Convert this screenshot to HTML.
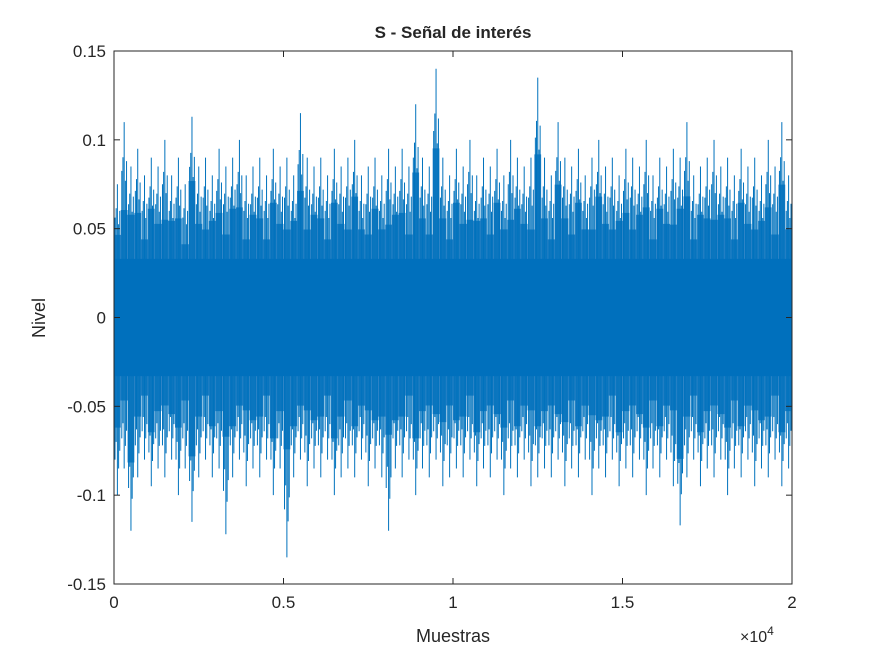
<!DOCTYPE html>
<html><head><meta charset="utf-8"><style>
body{margin:0;background:#fff;}
svg text{font-family:"Liberation Sans",sans-serif;fill:#262626;}
</style></head><body>
<svg width="875" height="656" viewBox="0 0 875 656">
<rect width="875" height="656" fill="#fff"/>
<g id="plot"></g>
<rect x="114" y="51" width="678" height="533" fill="none" stroke="#262626" stroke-width="1"/>
<g id="ticks"></g>
<text x="453" y="38" text-anchor="middle" font-size="17" font-weight="bold" fill="#000">S - Señal de interés</text>
<text x="453" y="642" text-anchor="middle" font-size="18">Muestras</text>
<text transform="translate(45,318) rotate(-90)" text-anchor="middle" font-size="18">Nivel</text>
<text x="740" y="642" font-size="16">×10<tspan dy="-7" font-size="12">4</tspan></text>
</svg>
<script>
const xTicks=[0,5000,10000,15000,20000];
const xTickLabels=["0","0.5","1","1.5","2"];
const yTicks=[-0.15,-0.1,-0.05,0,0.05,0.1,0.15];
const yTickLabels=["-0.15","-0.1","-0.05","0","0.05","0.1","0.15"];
// per-bin (200 samples) envelope
const binMax=[0.075,0.11,0.085,0.095,0.08,0.09,0.085,0.1,0.08,0.09,0.075,0.113,0.085,0.09,0.08,0.095,0.085,0.09,0.1,0.08,0.085,0.09,0.08,0.095,0.085,0.09,0.08,0.115,0.09,0.085,0.09,0.08,0.095,0.085,0.09,0.1,0.08,0.085,0.09,0.08,0.095,0.085,0.095,0.085,0.12,0.09,0.085,0.14,0.09,0.08,0.095,0.085,0.1,0.08,0.09,0.085,0.095,0.08,0.1,0.09,0.085,0.09,0.135,0.09,0.08,0.11,0.09,0.085,0.095,0.08,0.09,0.1,0.085,0.09,0.08,0.095,0.09,0.085,0.1,0.08,0.09,0.085,0.095,0.09,0.11,0.08,0.085,0.09,0.1,0.085,0.09,0.08,0.095,0.085,0.09,0.08,0.1,0.085,0.11,0.08];
const binMin=[-0.1,-0.085,-0.12,-0.09,-0.08,-0.095,-0.085,-0.09,-0.08,-0.1,-0.085,-0.115,-0.09,-0.08,-0.09,-0.085,-0.122,-0.09,-0.08,-0.095,-0.085,-0.09,-0.08,-0.1,-0.085,-0.135,-0.09,-0.08,-0.095,-0.085,-0.09,-0.08,-0.1,-0.09,-0.085,-0.09,-0.08,-0.095,-0.085,-0.09,-0.12,-0.085,-0.09,-0.08,-0.1,-0.085,-0.09,-0.08,-0.095,-0.09,-0.085,-0.09,-0.08,-0.095,-0.085,-0.09,-0.08,-0.1,-0.085,-0.09,-0.08,-0.095,-0.09,-0.085,-0.09,-0.08,-0.095,-0.085,-0.09,-0.08,-0.1,-0.085,-0.09,-0.08,-0.095,-0.085,-0.09,-0.08,-0.1,-0.085,-0.09,-0.08,-0.095,-0.117,-0.09,-0.08,-0.095,-0.085,-0.09,-0.08,-0.1,-0.085,-0.09,-0.08,-0.095,-0.085,-0.09,-0.08,-0.095,-0.085];
const coreAmp=[0.033];
const binSize=200;
const X0=114,X1=792,Y0=584,Y1=51;
const xs=v=>X0+(v/20000)*(X1-X0);
const ys=v=>Y0-(v+0.15)/0.3*(Y0-Y1);
const NS="http://www.w3.org/2000/svg";
const plot=document.getElementById('plot');
function mk(t,a){const e=document.createElementNS(NS,t);for(const k in a)e.setAttribute(k,a[k]);return e;}
const upperPts=[],lowerPts=[];
binMax.forEach((mx,i)=>{
  const a=xs(i*binSize),b=xs((i+1)*binSize);
  const f=(i%3===0)?0.62:(i%3===1?0.55:0.68);
  upperPts.push(a+','+ys(mx*f),b+','+ys(mx*f));
  lowerPts.unshift(b+','+ys(binMin[i]*f),a+','+ys(binMin[i]*f));
});
const mid=mk('polygon',{points:upperPts.concat(lowerPts).join(' '),fill:'#2f84c6'});


plot.appendChild(mid);
const fr=[[0.5,1,1],[0.15,0.75,0.8],[0.32,0.82,0.7],[0.68,0.7,0.85],[0.85,0.8,0.75]];
binMax.forEach((mx,i)=>{
  const mn=binMin[i];
  fr.forEach(([p,a,b])=>{
    const x=xs((i+p)*binSize);
    const l=mk('line',{x1:x,x2:x,y1:ys(mx*a),y2:ys(mn*b),stroke:'#0072BD','stroke-width':1});
    
    
    plot.appendChild(l);
  });
});
const core=mk('rect',{x:xs(0),y:ys(coreAmp[0]),width:xs(20000)-xs(0),height:ys(-coreAmp[0])-ys(coreAmp[0]),fill:'#0070BD'});


plot.appendChild(core);
const tg=document.getElementById('ticks');
xTicks.forEach((v,i)=>{
  const x=xs(v);
  const t=mk('line',{x1:x,x2:x,y1:Y0,y2:Y0-6,stroke:'#262626'});
  
  
  tg.appendChild(t);
  const t2=mk('line',{x1:x,x2:x,y1:Y1,y2:Y1+6,stroke:'#262626'});
  
  
  tg.appendChild(t2);
  const tx=mk('text',{x:x,y:Y0+24,'text-anchor':'middle','font-size':17});
  tx.textContent=xTickLabels[i];
  
  
  tg.appendChild(tx);
});
yTicks.forEach((v,i)=>{
  const y=ys(v);
  const t=mk('line',{x1:X0,x2:X0+6,y1:y,y2:y,stroke:'#262626'});
  
  
  tg.appendChild(t);
  const t2=mk('line',{x1:X1,x2:X1-6,y1:y,y2:y,stroke:'#262626'});
  
  
  tg.appendChild(t2);
  const tx=mk('text',{x:X0-8,y:y+6,'text-anchor':'end','font-size':17});
  tx.textContent=yTickLabels[i];
  
  
  tg.appendChild(tx);
});
</script>
</body></html>
